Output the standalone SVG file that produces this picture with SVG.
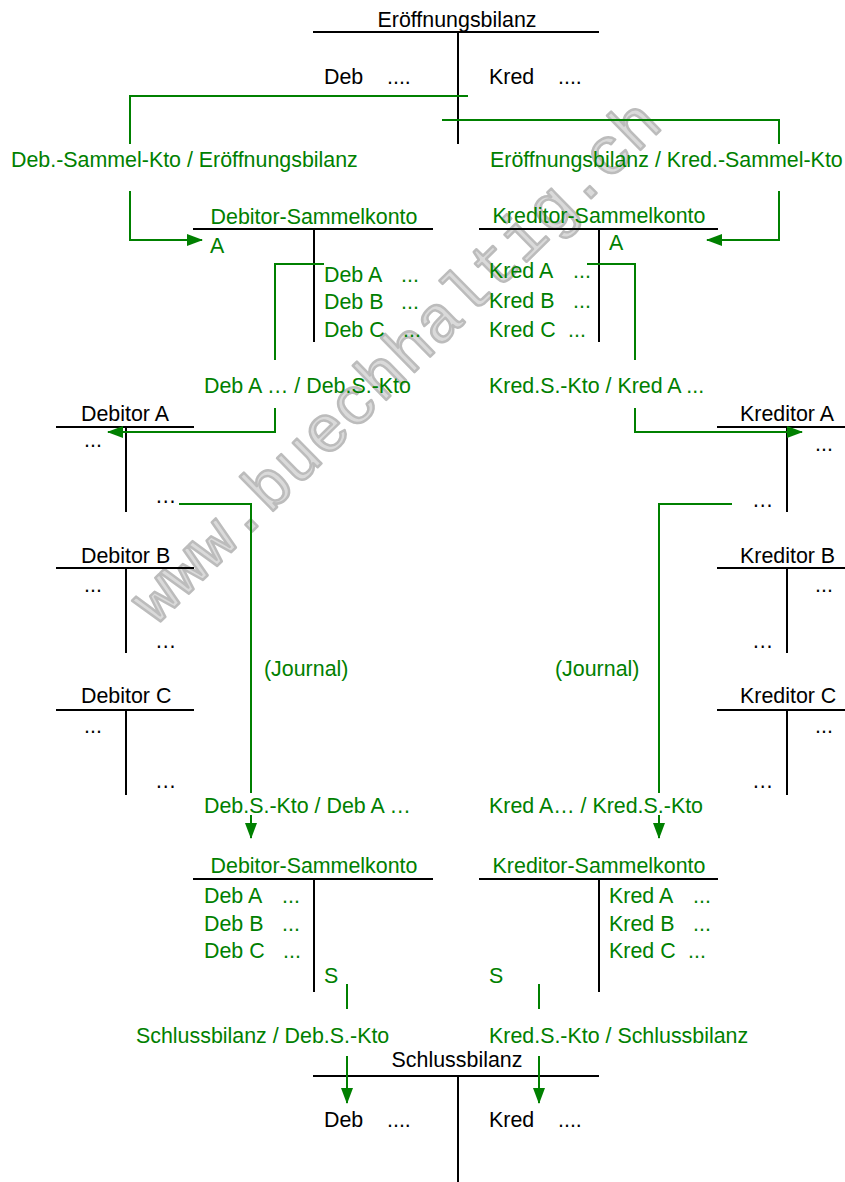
<svg xmlns="http://www.w3.org/2000/svg" width="845" height="1182" viewBox="0 0 845 1182">
<style>
text{font-family:"Liberation Sans",Arial,sans-serif;font-size:21.4px;fill:#000}
.g{fill:#008000}
.mid{text-anchor:middle}
.t{stroke:#000;stroke-width:2;fill:none}
.c{stroke:#008000;stroke-width:2;fill:none}
.wm{font-family:"Liberation Mono","Courier New",monospace;font-size:66px;fill:#dadada;stroke:#bcbcbc;stroke-width:2.5;stroke-linejoin:round}
</style>
<defs>
<marker id="ah" viewBox="0 0 16 12" refX="15" refY="6" markerWidth="16" markerHeight="12" markerUnits="userSpaceOnUse" orient="auto">
<path d="M0,0 L16,6 L0,12 Z" fill="#008000"/>
</marker>
</defs>
<rect width="845" height="1182" fill="#fff"/>
<text class="wm" transform="translate(156,626) rotate(-44.5)">www.buechhaltig.ch</text>

<g id="eroeffnungsbilanz">
<text class="mid" x="457" y="27">Eröffnungsbilanz</text>
<path class="t" d="M313,32 H599 M458,32 V144"/>
<text x="324" y="84">Deb</text><text x="387" y="84">....</text>
<text x="489" y="84">Kred</text><text x="558" y="84">....</text>
</g>

<g id="debitor-sammelkonto-1">
<text class="mid g" x="314" y="224">Debitor-Sammelkonto</text>
<path class="t" d="M193,229 H433 M314,229 V342"/>
<text class="g" x="210" y="253">A</text>
<text class="g" x="324" y="282">Deb A</text><text class="g" x="401" y="282">...</text>
<text class="g" x="324" y="309">Deb B</text><text class="g" x="401" y="309">...</text>
<text class="g" x="324" y="337">Deb C</text><text class="g" x="403" y="337">...</text>
</g>

<g id="kreditor-sammelkonto-1">
<text class="mid g" x="599" y="223">Kreditor-Sammelkonto</text>
<path class="t" d="M479,229 H718 M599,229 V342"/>
<text class="g" x="609" y="250">A</text>
<text class="g" x="489" y="278">Kred A</text><text class="g" x="573" y="278">...</text>
<text class="g" x="489" y="308">Kred B</text><text class="g" x="573" y="308">...</text>
<text class="g" x="489" y="337">Kred C</text><text class="g" x="568" y="337">...</text>
</g>

<g id="debitor-a">
<text x="81" y="421">Debitor A</text>
<path class="t" d="M56,427 H194 M126,427 V512"/>
<text x="84" y="447">...</text><text x="155" y="503">…</text>
</g>
<g id="debitor-b">
<text x="81" y="563">Debitor B</text>
<path class="t" d="M56,568 H194 M126,568 V653"/>
<text x="84" y="592">...</text><text x="155" y="648">…</text>
</g>
<g id="debitor-c">
<text x="81" y="703">Debitor C</text>
<path class="t" d="M56,710 H194 M126,710 V795"/>
<text x="84" y="733">...</text><text x="155" y="788">…</text>
</g>

<g id="kreditor-a">
<text x="740" y="421">Kreditor A</text>
<path class="t" d="M717,427 H845 M787,427 V512"/>
<text x="815" y="451">...</text><text x="752" y="507">…</text>
</g>
<g id="kreditor-b">
<text x="740" y="563">Kreditor B</text>
<path class="t" d="M717,568 H845 M787,568 V653"/>
<text x="815" y="592">...</text><text x="752" y="648">…</text>
</g>
<g id="kreditor-c">
<text x="740" y="703">Kreditor C</text>
<path class="t" d="M717,710 H845 M787,710 V795"/>
<text x="815" y="733">...</text><text x="752" y="788">…</text>
</g>

<g id="debitor-sammelkonto-2">
<text class="mid g" x="314" y="873">Debitor-Sammelkonto</text>
<path class="t" d="M193,879 H433 M314,879 V992"/>
<text class="g" x="204" y="903">Deb A</text><text class="g" x="282" y="903">...</text>
<text class="g" x="204" y="931">Deb B</text><text class="g" x="282" y="931">...</text>
<text class="g" x="204" y="958">Deb C</text><text class="g" x="283" y="958">...</text>
<text class="g" x="324" y="983">S</text>
</g>

<g id="kreditor-sammelkonto-2">
<text class="mid g" x="599" y="873">Kreditor-Sammelkonto</text>
<path class="t" d="M479,879 H718 M599,879 V992"/>
<text class="g" x="609" y="903">Kred A</text><text class="g" x="693" y="903">...</text>
<text class="g" x="609" y="931">Kred B</text><text class="g" x="693" y="931">...</text>
<text class="g" x="609" y="958">Kred C</text><text class="g" x="688" y="958">...</text>
<text class="g" x="489" y="983">S</text>
</g>

<g id="schlussbilanz">
<text class="mid" x="457" y="1067">Schlussbilanz</text>
<path class="t" d="M313,1076 H599 M458,1076 V1182"/>
<text x="324" y="1127">Deb</text><text x="387" y="1127">....</text>
<text x="489" y="1127">Kred</text><text x="558" y="1127">....</text>
</g>

<g id="connectors">
<path class="c" d="M468,96 H130 V144"/>
<path class="c" d="M130,191 V240 H202" marker-end="url(#ah)"/>
<path class="c" d="M442,120 H779 V144"/>
<path class="c" d="M779,191 V240 H707" marker-end="url(#ah)"/>
<path class="c" d="M324,264 H275 V360"/>
<path class="c" d="M275,408 V432 H108" marker-end="url(#ah)"/>
<path class="c" d="M587,264 H635 V360"/>
<path class="c" d="M635,408 V432 H802" marker-end="url(#ah)"/>
<path class="c" d="M179,504 H251 V793"/>
<path class="c" d="M251,815 V838" marker-end="url(#ah)"/>
<path class="c" d="M732,504 H659 V793"/>
<path class="c" d="M659,815 V838" marker-end="url(#ah)"/>
<path class="c" d="M347,984 V1009"/>
<path class="c" d="M347,1056 V1103" marker-end="url(#ah)"/>
<path class="c" d="M539,984 V1009"/>
<path class="c" d="M539,1056 V1103" marker-end="url(#ah)"/>
</g>

<g id="connector-labels">
<text class="g" x="11" y="167">Deb.-Sammel-Kto / Eröffnungsbilanz</text>
<text class="g" x="490" y="167">Eröffnungsbilanz / Kred.-Sammel-Kto</text>
<text class="g" x="204" y="393">Deb A … / Deb.S.-Kto</text>
<text class="g" x="489" y="393">Kred.S.-Kto / Kred A ...</text>
<text class="g" x="264" y="676">(Journal)</text>
<text class="g" x="555" y="676">(Journal)</text>
<text class="g" x="204" y="813">Deb.S.-Kto / Deb A …</text>
<text class="g" x="489" y="813">Kred A… / Kred.S.-Kto</text>
<text class="g" x="136" y="1043">Schlussbilanz / Deb.S.-Kto</text>
<text class="g" x="489" y="1043">Kred.S.-Kto / Schlussbilanz</text>
</g>
</svg>
